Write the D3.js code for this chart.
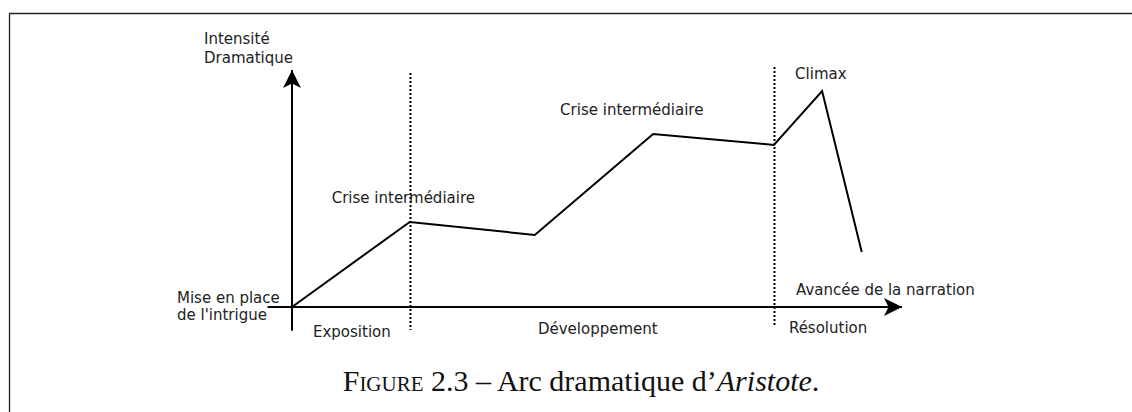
<!DOCTYPE html>
<html>
<head>
<meta charset="utf-8">
<script src="https://cdn.jsdelivr.net/npm/d3@7"></script>
<style>
  body { margin: 0; background: #fff; }
  text { font-family: "DejaVu Sans", sans-serif; font-size: 15px; fill: #222; }
  .caption { font-family: "Liberation Serif", "Times New Roman", serif; font-size: 30px; fill: #111; }
</style>
</head>
<body>
<div class="d3chart"></div>
<script>
// narration progress (0..100) and dramatic intensity (0..100)
var steps = ["Mise en place", "Crise 1", "Creux", "Crise 2", "Avant climax", "Climax", "Fin"];
var progress = [0, 19.3, 39.8, 59.2, 79.0, 86.9, 93.4];
var intensity = [0, 35.9, 30.4, 73.0, 68.4, 91.1, 23.2];

var phaseBounds = [19.3, 79.0];
var phases = ["Exposition", "Développement", "Résolution"];

var width = 1132, height = 412;

var svg = d3.select(".d3chart").append("svg")
    .attr("width", width)
    .attr("height", height);

// frame (top + left edge of the figure box)
svg.append("path")
    .attr("d", "M9.5," + height + "V13.5H" + width)
    .attr("fill", "none")
    .attr("stroke", "#222")
    .attr("stroke-width", 1.3);

var x = d3.scaleLinear().domain([0, 100]).range([292, 902]);
var y = d3.scaleLinear().domain([0, 100]).range([307, 70]);

svg.append("defs").append("marker")
    .attr("id", "arrow")
    .attr("viewBox", "0 0 10 10")
    .attr("refX", 10).attr("refY", 5)
    .attr("markerWidth", 9).attr("markerHeight", 9)
    .attr("markerUnits", "strokeWidth")
    .attr("orient", "auto")
  .append("path")
    .attr("d", "M0,0L10,5L0,10L2.5,5Z")
    .attr("fill", "#000");

// axes
svg.append("line")
    .attr("x1", x(-4)).attr("x2", x(100))
    .attr("y1", y(0)).attr("y2", y(0))
    .attr("stroke", "#000").attr("stroke-width", 2)
    .attr("marker-end", "url(#arrow)");

svg.append("line")
    .attr("x1", x(0)).attr("x2", x(0))
    .attr("y1", y(-10)).attr("y2", y(100))
    .attr("stroke", "#000").attr("stroke-width", 2)
    .attr("marker-end", "url(#arrow)");

// phase separators
svg.selectAll(".sep")
    .data(phaseBounds)
    .enter().append("line")
    .attr("class", "sep")
    .attr("x1", function(d) { return Math.round(x(d)) + 0.5; })
    .attr("x2", function(d) { return Math.round(x(d)) + 0.5; })
    .attr("y1", function(d, i) { return i == 0 ? y(98.7) : y(101.3); })
    .attr("y2", function(d, i) { return i == 0 ? y(-9.7) : y(-7.6); })
    .attr("stroke", "#000")
    .attr("stroke-width", 2)
    .attr("stroke-dasharray", "2,2");

// dramatic arc
var pts = progress.map(function(p, i) { return [p, intensity[i]]; });
var line = d3.line()
    .x(function(d) { return x(d[0]); })
    .y(function(d) { return y(d[1]); });

svg.append("path")
    .datum(pts)
    .attr("d", line)
    .attr("fill", "none")
    .attr("stroke", "#000")
    .attr("stroke-width", 2)
    .attr("stroke-linejoin", "miter");

// point labels
svg.append("text").attr("x", x(progress[1]) - 78).attr("y", y(intensity[1]) - 19).text("Crise intermédiaire");
svg.append("text").attr("x", x(progress[3]) - 93).attr("y", y(intensity[3]) - 19).text("Crise intermédiaire");
svg.append("text").attr("x", x(progress[5]) - 27).attr("y", y(intensity[5]) - 12).text("Climax");

svg.append("text").attr("x", 177).attr("y", y(0) - 4).text("Mise en place");
svg.append("text").attr("x", 177).attr("y", y(0) + 13).text("de l'intrigue");

// axis titles
svg.append("text").attr("x", 204).attr("y", 44).text("Intensité");
svg.append("text").attr("x", 204).attr("y", 63).text("Dramatique");
svg.append("text").attr("x", 796).attr("y", y(0) - 12).text("Avancée de la narration");

// phase labels
var edges = [0].concat(phaseBounds);
svg.selectAll(".phase")
    .data(phases)
    .enter().append("text")
    .attr("class", "phase")
    .attr("text-anchor", function(d, i) { return i < 2 ? "middle" : "start"; })
    .attr("x", function(d, i) {
        if (i < 2) return (x(edges[i]) + x(edges[i + 1])) / 2 + (i == 0 ? 1 : 6);
        return x(edges[i]) + 15;
    })
    .attr("y", function(d, i) { return [337, 334, 333][i]; })
    .text(function(d) { return d; });

// caption
var cap = svg.append("text")
    .attr("class", "caption")
    .attr("x", 581)
    .attr("y", 391)
    .attr("text-anchor", "middle");
cap.append("tspan").text("F");
cap.append("tspan").style("font-variant", "small-caps").text("igure");
cap.append("tspan").text(" 2.3 – Arc dramatique d’");
cap.append("tspan").style("font-style", "italic").text("Aristote");
cap.append("tspan").text(".");
</script>
</body>
</html>
